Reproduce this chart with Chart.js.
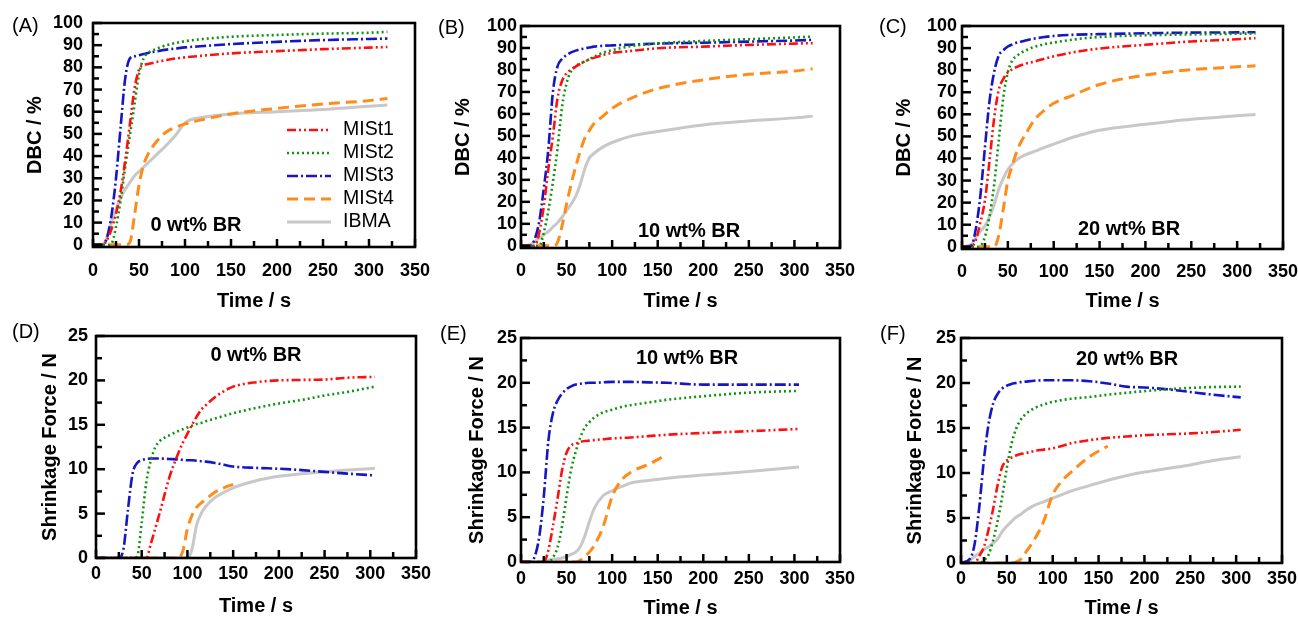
<!DOCTYPE html>
<html>
<head>
<meta charset="utf-8">
<script src="https://cdn.jsdelivr.net/npm/chart.js@4.4.1/dist/chart.umd.min.js"></script>
<style>
  body { margin: 0; background: #fff; }
  #page { position: relative; width: 1298px; height: 619px; overflow: hidden; font-family: "Liberation Sans", Arial, sans-serif; }
  #page canvas { position: absolute; }
  .letter { position: absolute; font-size: 20px; line-height: 1; transform: translateY(-50%); }
  .note { position: absolute; font-size: 20px; font-weight: bold; line-height: 1; transform: translate(-50%, -50%); white-space: nowrap; }
</style>
</head>
<body>
<div id="page"></div>
<script>
// series names and tick positions
const seriesNames = ["MISt1", "MISt2", "MISt3", "MISt4", "IBMA"];
const timeTicks = [0, 25, 50, 75, 100, 125, 150, 175, 200, 225, 250, 275, 300, 325, 350];
const dbcTicks = [0, 5, 10, 15, 20, 25, 30, 35, 40, 45, 50, 55, 60, 65, 70, 75, 80, 85, 90, 95, 100];
const forceTicks = [0, 2.5, 5, 7.5, 10, 12.5, 15, 17.5, 20, 22.5, 25];

// (A) DBC, 0 wt% BR
const timeA = [0, 10, 15, 20, 25, 30, 35, 40, 45, 50, 55, 60, 70, 80, 90, 100, 120, 150, 200, 250, 300, 320];
const mist1A = [0, 0, 2, 7, 14, 24, 38, 54, 70, 79, 81, 81.5, 82.5, 83.3, 84, 84.5, 85.3, 86.3, 87.3, 88.2, 88.9, 89.2];
const mist2A = [0, 0, 0, 0.5, 8, 20, 35, 49, 63, 77, 84, 86.5, 88.5, 90, 91, 91.8, 92.8, 93.8, 94.6, 95.2, 95.6, 96];
const mist3A = [0, 0, 3, 13, 30, 53, 75, 84, 85, 85.5, 86, 86.5, 87.3, 88, 88.5, 89, 89.6, 90.5, 91.5, 92.3, 92.8, 93];
const mist4A = [0, 0, 0, 0, 0, 0, 0, 1, 13, 27, 36, 41, 47, 51, 53, 54.5, 56.5, 59, 61.5, 63.5, 65, 66];
const ibmaA = [0, 0, 3, 10, 16, 21, 25, 28, 31, 33, 35, 37, 41, 45, 49.5, 55, 57.5, 59, 60, 61, 62.5, 63];

// (B) DBC, 10 wt% BR
const timeB = [0, 10, 15, 20, 25, 30, 35, 40, 45, 50, 55, 60, 65, 70, 75, 80, 90, 100, 120, 150, 200, 250, 300, 320];
const mist1B = [0, 0, 0, 6, 18, 35, 50, 67, 75, 78.5, 80.2, 81.5, 82.8, 84, 84.8, 85.5, 86.8, 87.8, 88.6, 89.9, 90.6, 91.4, 92, 92.2];
const mist2B = [0, 0, 0, 0, 6, 16, 29, 44, 63, 74, 79.5, 81.8, 83, 83.7, 85, 86, 87.8, 89, 90.8, 92.1, 93.2, 94, 94.8, 95.2];
const mist3B = [0, 0, 3, 11, 26, 44, 70, 81.5, 85, 86.8, 88, 88.8, 89.4, 89.8, 90.2, 90.6, 91, 91.2, 91.5, 92, 92.4, 92.9, 93.4, 93.7];
const mist4B = [0, 0, 0, 0, 0, 0, 0, 1.5, 9, 19, 28, 36, 43, 49, 52.5, 55.5, 59, 62.5, 67, 71.5, 75.5, 78, 79.5, 80.5];
const ibmaB = [0, 0.5, 2, 3.5, 5, 6.5, 8.5, 10.5, 13, 16, 19, 22.5, 28, 35, 40, 42, 45, 47, 49.8, 52, 55, 56.8, 58.2, 59];

// (C) DBC, 20 wt% BR
const timeC = [0, 10, 15, 20, 25, 30, 35, 40, 45, 50, 55, 60, 65, 70, 75, 80, 90, 100, 120, 150, 200, 250, 300, 320];
const mist1C = [0, 0, 3, 11, 21, 39, 58, 71, 76, 79, 80.5, 81.5, 82.3, 83, 83.5, 84, 85.2, 86.3, 88, 89.8, 91.5, 93, 94, 94.5];
const mist2C = [0, 0, 0, 0.5, 4.5, 14, 28, 48, 67.5, 79, 84.5, 86.5, 88, 89, 90, 90.7, 91.8, 92.5, 93.8, 95, 95.8, 96.2, 96.5, 96.6];
const mist3C = [0, 0.5, 8, 23, 45, 66, 79, 86.5, 89, 90.7, 91.7, 92.5, 93, 93.5, 94, 94.4, 95, 95.5, 96, 96.3, 96.7, 97, 97.1, 97.2];
const mist4C = [0, 0, 0, 0, 0, 0, 0, 5, 17, 30, 37, 43.5, 48, 51.5, 55, 58, 62, 65, 68.5, 73.5, 77.8, 80.2, 81.5, 82];
const ibmaC = [0, 1, 4, 7, 9.5, 13.5, 19, 26, 31, 35, 37.5, 39.5, 40.8, 41.8, 42.6, 43.3, 45, 46.5, 49.5, 52.8, 55.5, 57.8, 59.3, 59.9];

// (D) shrinkage force, 0 wt% BR
const timeD = [0, 25, 30, 35, 40, 45, 50, 55, 60, 65, 70, 80, 90, 95, 100, 105, 110, 115, 120, 130, 140, 150, 175, 200, 225, 250, 275, 305];
const mist1D = [0, 0, 0, 0, 0, 0, 0, 0, 1.6, 3.4, 5.2, 9, 11.8, 13, 14, 15, 15.9, 16.7, 17.2, 18.1, 18.8, 19.3, 19.8, 20, 20.05, 20.1, 20.3, 20.4];
const mist2D = [0, 0, 0, 0, 0, 0.2, 4, 8.5, 11, 12.5, 13.2, 13.8, 14.3, 14.5, 14.7, 14.9, 15.1, 15.2, 15.4, 15.7, 16, 16.3, 16.9, 17.4, 17.8, 18.3, 18.7, 19.3];
const mist3D = [0, 0, 1, 5.5, 9.5, 10.7, 11, 11.15, 11.2, 11.2, 11.2, 11.15, 11.1, 11.05, 11, 11, 10.95, 10.9, 10.85, 10.7, 10.5, 10.3, 10.15, 10.05, 9.9, 9.7, 9.5, 9.3];
const mist4D = [0, 0, 0, 0, 0, 0, 0, 0, 0, 0, 0, 0, 0, 0.8, 3.3, 4.8, 5.7, 6.2, 6.6, 7.4, 7.9, 8.3, null, null, null, null, null, null];
const ibmaD = [0, 0, 0, 0, 0, 0, 0, 0, 0, 0, 0, 0, 0, 0, 0, 1, 3.7, 5, 5.8, 6.8, 7.4, 7.9, 8.7, 9.2, 9.5, 9.7, 9.9, 10.1];

// (E) shrinkage force, 10 wt% BR
const timeE = [0, 10, 15, 20, 25, 30, 35, 40, 45, 50, 55, 60, 65, 70, 75, 80, 90, 100, 110, 120, 140, 160, 200, 250, 305];
const mist1E = [0, 0, 0, 0, 0, 1.3, 4, 7, 10.2, 12.2, 13, 13.2, 13.4, 13.5, 13.55, 13.6, 13.7, 13.8, 13.85, 13.9, 14.05, 14.2, 14.4, 14.6, 14.85];
const mist2E = [0, 0, 0, 0, 0, 0, 0.5, 1.6, 4, 7.3, 10.3, 12.3, 13.9, 15, 15.6, 16.1, 16.7, 17, 17.3, 17.5, 17.8, 18.1, 18.5, 18.9, 19.1];
const mist3E = [0, 0, 0.6, 2.8, 7.3, 13.5, 16.6, 18, 18.8, 19.3, 19.6, 19.8, 19.9, 19.95, 20, 20, 20.05, 20.1, 20.1, 20.1, 20.05, 20, 19.8, 19.8, 19.8];
const mist4E = [0, 0, 0, 0, 0, 0, 0, 0, 0, 0, 0, 0, 0.2, 0.6, 1.1, 1.8, 3.9, 7.3, 9.1, 10, 10.9, 12, null, null, null];
const ibmaE = [0, 0, 0, 0, 0.1, 0.2, 0.3, 0.35, 0.45, 0.6, 0.85, 1.1, 1.7, 2.9, 4.5, 5.9, 7.4, 7.95, 8.4, 8.8, 9.1, 9.35, 9.7, 10.1, 10.6];

// (F) shrinkage force, 20 wt% BR
const timeF = [0, 10, 15, 20, 25, 30, 35, 40, 45, 50, 55, 60, 65, 70, 80, 90, 100, 110, 120, 140, 160, 180, 200, 225, 250, 275, 305];
const mist1F = [0, 0, 0, 0.8, 1.8, 3.7, 6, 8.7, 10.7, 11.4, 11.7, 11.95, 12.1, 12.2, 12.45, 12.6, 12.75, 13, 13.3, 13.65, 13.9, 14.05, 14.2, 14.3, 14.4, 14.55, 14.8];
const mist2F = [0, 0, 0, 0, 0.3, 0.9, 2.5, 4.7, 7.4, 10.6, 13.2, 14.9, 15.9, 16.5, 17.2, 17.6, 17.9, 18.1, 18.25, 18.45, 18.7, 18.9, 19.1, 19.3, 19.45, 19.55, 19.6];
const mist3F = [0, 0.5, 2.2, 6.3, 11.5, 15.4, 17.7, 18.8, 19.4, 19.7, 19.9, 20, 20.1, 20.15, 20.25, 20.3, 20.3, 20.3, 20.3, 20.2, 19.95, 19.6, 19.5, 19.3, 19, 18.7, 18.4];
const mist4F = [0, 0, 0, 0, 0, 0, 0, 0, 0, 0, 0, 0.1, 0.4, 1.1, 2.6, 4.6, 7.6, 9.1, 10.1, 11.8, 13, null, null, null, null, null, null];
const ibmaF = [0, 0.3, 0.75, 1.1, 1.5, 1.8, 2.2, 2.7, 3.5, 4.1, 4.6, 5.1, 5.4, 5.8, 6.4, 6.8, 7.2, 7.6, 8, 8.6, 9.2, 9.7, 10.1, 10.5, 10.9, 11.4, 11.8];

// line styles, same order as seriesNames
const seriesStyles = [
  { color: "#ff1010", width: 2.6, dash: [9, 3, 2, 3, 2, 3] },
  { color: "#0f940f", width: 2.6, dash: [2, 3] },
  { color: "#1616c4", width: 2.6, dash: [11, 3, 2, 3] },
  { color: "#ff8c1a", width: 3, dash: [11, 6] },
  { color: "#c8c8c8", width: 3, dash: [] }
];

// layout of each panel: plot box [left, top, right, bottom] in page pixels
const panels = [
  { letter: "(A)", note: "0 wt% BR", kind: "dbc", time: timeA, values: [mist1A, mist2A, mist3A, mist4A, ibmaA],
    box: [93, 23, 415, 247], yTitleX: 35, tickGap: 10, xLabelOff: 24, xTitleY: 301,
    letterPos: [12, 25], notePos: [196, 224], legend: { left: 194, top: 107 } },
  { letter: "(B)", note: "10 wt% BR", kind: "dbc", time: timeB, values: [mist1B, mist2B, mist3B, mist4B, ibmaB],
    box: [521, 26, 840, 248], yTitleX: 463, tickGap: 4, xLabelOff: 23, xTitleY: 301,
    letterPos: [438, 27], notePos: [689, 230] },
  { letter: "(C)", note: "20 wt% BR", kind: "dbc", time: timeC, values: [mist1C, mist2C, mist3C, mist4C, ibmaC],
    box: [962, 26, 1283, 249], yTitleX: 904, tickGap: 5, xLabelOff: 23, xTitleY: 301,
    letterPos: [879, 26], notePos: [1129, 228] },
  { letter: "(D)", note: "0 wt% BR", kind: "force", time: timeD, values: [mist1D, mist2D, mist3D, mist4D, ibmaD],
    box: [96, 336, 416, 558], yTitleX: 50, tickGap: 8, xLabelOff: 16, xTitleY: 606,
    letterPos: [12, 331], notePos: [256, 354] },
  { letter: "(E)", note: "10 wt% BR", kind: "force", time: timeE, values: [mist1E, mist2E, mist3E, mist4E, ibmaE],
    box: [521, 338, 840, 562], yTitleX: 477, tickGap: 4, xLabelOff: 17, xTitleY: 608,
    letterPos: [440, 333], notePos: [687, 357] },
  { letter: "(F)", note: "20 wt% BR", kind: "force", time: timeF, values: [mist1F, mist2F, mist3F, mist4F, ibmaF],
    box: [961, 338, 1282, 563], yTitleX: 915, tickGap: 5, xLabelOff: 16, xTitleY: 608,
    letterPos: [880, 333], notePos: [1127, 358] }
];

Chart.defaults.font.family = '"Liberation Sans", Arial, sans-serif';
Chart.defaults.color = "#000";

// closed frame round the plot area, with inward tick marks
const framePlugin = {
  id: "frame",
  afterDraw(chart) {
    const a = chart.chartArea, ctx = chart.ctx;
    const xs = chart.scales.x, ys = chart.scales.y;
    const isDbc = ys.max > 50;
    ctx.save();
    ctx.setLineDash([]);
    ctx.strokeStyle = "#000";
    ctx.lineWidth = 2.5;
    ctx.lineCap = "butt";
    timeTicks.forEach(v => {
      const px = xs.getPixelForValue(v);
      const len = v % 50 === 0 ? 8 : 6;
      ctx.beginPath();
      ctx.moveTo(px, a.bottom);
      ctx.lineTo(px, a.bottom - len);
      ctx.stroke();
    });
    (isDbc ? dbcTicks : forceTicks).forEach(v => {
      const py = ys.getPixelForValue(v);
      const len = v % (isDbc ? 10 : 5) === 0 ? 9 : 6;
      ctx.beginPath();
      ctx.moveTo(a.left, py);
      ctx.lineTo(a.left + len, py);
      ctx.stroke();
    });
    ctx.lineWidth = 2.6;
    ctx.strokeRect(a.left, a.top, a.right - a.left, a.bottom - a.top);
    ctx.restore();
  }
};

// legend drawn inside the plot area
const insetLegend = {
  id: "insetLegend",
  afterDraw(chart, args, opts) {
    if (!opts.show) return;
    const ctx = chart.ctx, a = chart.chartArea;
    ctx.save();
    ctx.font = '19.5px "Liberation Sans", Arial, sans-serif';
    ctx.textBaseline = "middle";
    chart.data.datasets.forEach((ds, i) => {
      const x = a.left + opts.left;
      const y = a.top + opts.top + i * 23;
      ctx.strokeStyle = ds.borderColor;
      ctx.lineWidth = ds.borderWidth;
      ctx.setLineDash(ds.borderDash);
      ctx.beginPath();
      ctx.moveTo(x, y);
      ctx.lineTo(x + 44, y);
      ctx.stroke();
      ctx.setLineDash([]);
      ctx.fillStyle = "#000";
      ctx.fillText(ds.label, x + 56, y);
    });
    ctx.restore();
  }
};

// tick labels may overhang the plot box without shrinking it
function noOverhang(s) {
  s.paddingLeft = 0;
  s.paddingRight = 0;
  s.paddingTop = 0;
  s.paddingBottom = 0;
}

const page = document.getElementById("page");

panels.forEach(p => {
  const [L, T, R, B] = p.box;
  const padTop = 14, padRight = 24;
  const yW = L - p.yTitleX + 12;
  const xH = p.xTitleY - B + 12;
  const isDbc = p.kind === "dbc";

  const canvas = document.createElement("canvas");
  canvas.width = yW + (R - L) + padRight;
  canvas.height = padTop + (B - T) + xH;
  canvas.style.left = (L - yW) + "px";
  canvas.style.top = (T - padTop) + "px";
  page.appendChild(canvas);

  const letter = document.createElement("div");
  letter.className = "letter";
  letter.textContent = p.letter;
  letter.style.left = p.letterPos[0] + "px";
  letter.style.top = p.letterPos[1] + "px";
  page.appendChild(letter);

  const note = document.createElement("div");
  note.className = "note";
  note.textContent = p.note;
  note.style.left = p.notePos[0] + "px";
  note.style.top = p.notePos[1] + "px";
  page.appendChild(note);

  const datasets = seriesNames.map((name, i) => ({
    label: name,
    data: p.time.map((t, j) => ({ x: t, y: p.values[i][j] })),
    borderColor: seriesStyles[i].color,
    borderWidth: seriesStyles[i].width,
    borderDash: seriesStyles[i].dash,
    pointRadius: 0,
    fill: false,
    cubicInterpolationMode: "monotone",
    spanGaps: false
  }));

  new Chart(canvas, {
    type: "line",
    data: { datasets },
    options: {
      responsive: false,
      animation: false,
      layout: { padding: { top: padTop, right: padRight, left: 0, bottom: 0 } },
      plugins: {
        legend: { display: false },
        tooltip: { enabled: false },
        insetLegend: p.legend ? { show: true, left: p.legend.left, top: p.legend.top } : { show: false }
      },
      scales: {
        x: {
          type: "linear",
          min: 0,
          max: 350,
          afterBuildTicks: s => { s.ticks = timeTicks.map(v => ({ value: v })); },
          afterFit: s => { s.height = xH; noOverhang(s); },
          border: { display: false },
          grid: { display: false, drawTicks: false },
          ticks: {
            autoSkip: false, maxRotation: 0, minRotation: 0,
            padding: p.xLabelOff - 10.8,
            font: { size: 18, weight: "bold" },
            callback: v => (v % 50 === 0 ? v : "")
          },
          title: { display: true, text: "Time / s", font: { size: 20, weight: "bold" }, padding: 0 }
        },
        y: {
          type: "linear",
          min: isDbc ? -1 : 0,
          max: isDbc ? 100 : 25,
          afterBuildTicks: s => { s.ticks = (isDbc ? dbcTicks : forceTicks).map(v => ({ value: v })); },
          afterFit: s => { s.width = yW; noOverhang(s); },
          border: { display: false },
          grid: { display: false, drawTicks: false },
          ticks: {
            autoSkip: false,
            padding: p.tickGap,
            font: { size: 18, weight: "bold" },
            callback: v => (v % (isDbc ? 10 : 5) === 0 ? v : "")
          },
          title: { display: true, text: isDbc ? "DBC / %" : "Shrinkage Force / N", font: { size: 20, weight: "bold" }, padding: 0 }
        }
      }
    },
    plugins: [framePlugin, insetLegend]
  });
});
</script>
</body>
</html>
